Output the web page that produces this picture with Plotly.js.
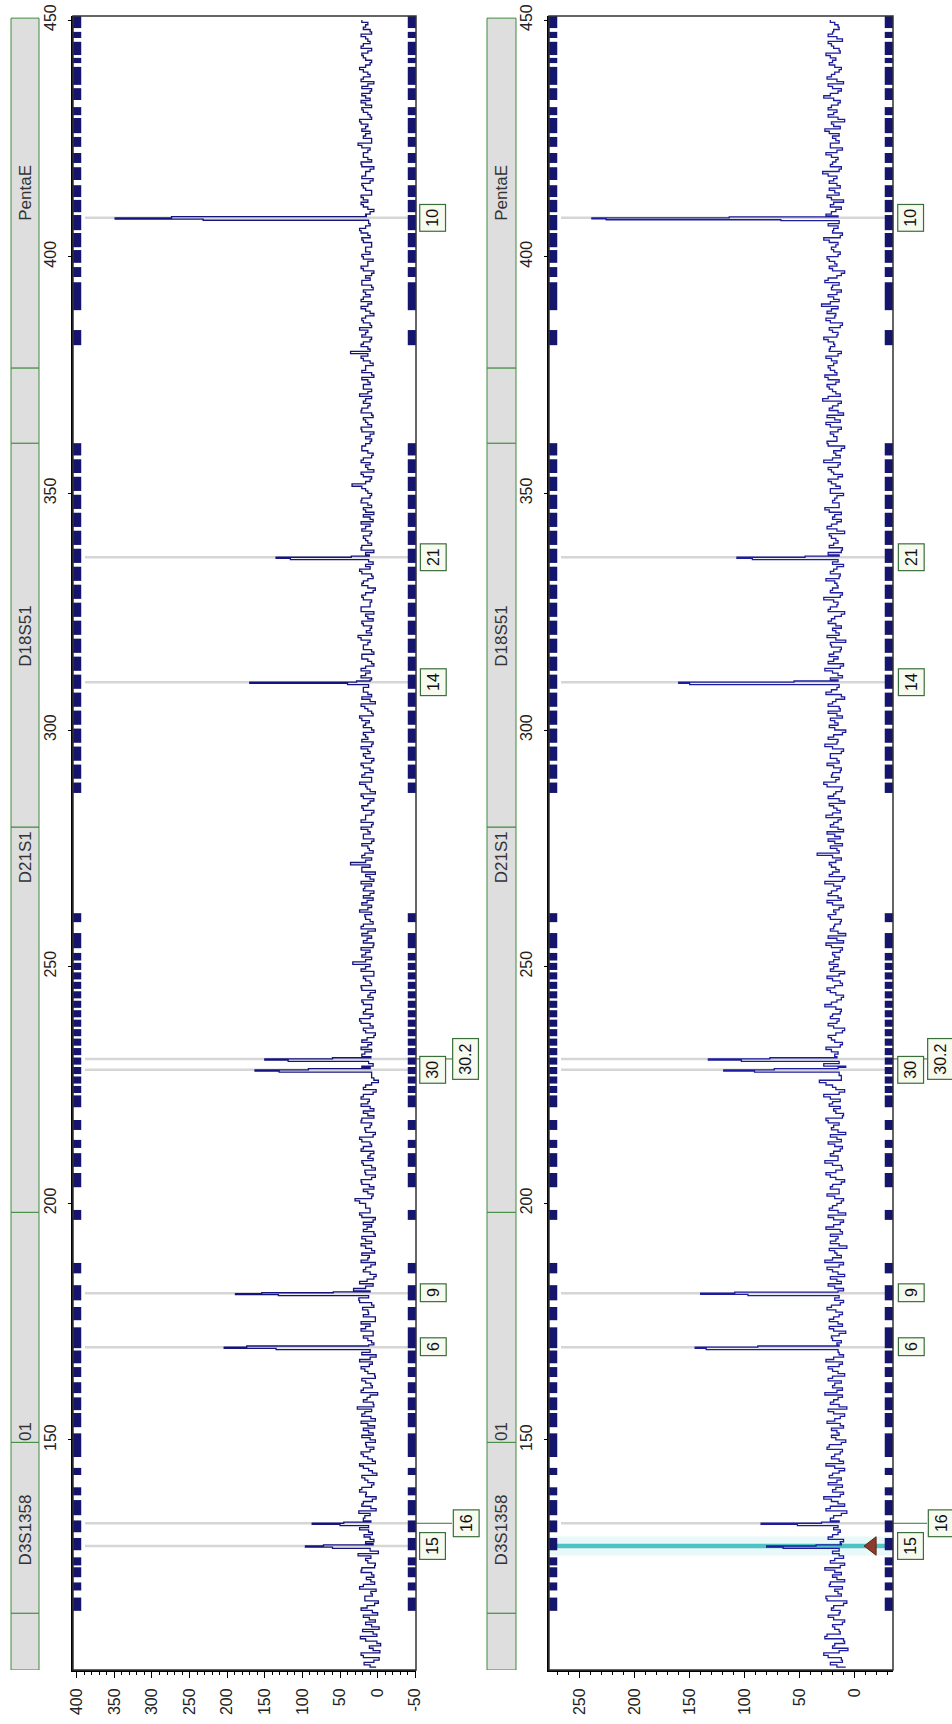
<!DOCTYPE html>
<html><head><meta charset="utf-8">
<script src="https://cdn.plot.ly/plotly-3.0.1.min.js"></script>
<style>html,body{margin:0;padding:0;background:#fff;}#chart{width:952px;height:1724px;}</style>
</head><body><div id="chart"></div>
<script>
// ---- data ----
const sizes = [
102,103,104,105,106,107,108,109,110,111,
112,113,114,115,116,117,118,119,120,121,
122,123,124,125,126,127,128,129,130,131,
132,133,134,135,136,137,138,139,140,141,
142,143,144,145,146,147,148,149,150,151,
152,153,154,155,156,157,158,159,160,161,
162,163,164,165,166,167,168,169,170,171,
172,173,174,175,176,177,178,179,180,181,
182,183,184,185,186,187,188,189,190,191,
192,193,194,195,196,197,198,199,200,201,
202,203,204,205,206,207,208,209,210,211,
212,213,214,215,216,217,218,219,220,221,
222,223,224,225,226,227,228,229,230,231,
232,233,234,235,236,237,238,239,240,241,
242,243,244,245,246,247,248,249,250,251,
252,253,254,255,256,257,258,259,260,261,
262,263,264,265,266,267,268,269,270,271,
272,273,274,275,276,277,278,279,280,281,
282,283,284,285,286,287,288,289,290,291,
292,293,294,295,296,297,298,299,300,301,
302,303,304,305,306,307,308,309,310,311,
312,313,314,315,316,317,318,319,320,321,
322,323,324,325,326,327,328,329,330,331,
332,333,334,335,336,337,338,339,340,341,
342,343,344,345,346,347,348,349,350,351,
352,353,354,355,356,357,358,359,360,361,
362,363,364,365,366,367,368,369,370,371,
372,373,374,375,376,377,378,379,380,381,
382,383,384,385,386,387,388,389,390,391,
392,393,394,395,396,397,398,399,400,401,
402,403,404,405,406,407,408,409,410,411,
412,413,414,415,416,417,418,419,420,421,
422,423,424,425,426,427,428,429,430,431,
432,433,434,435,436,437,438,439,440,441,
442,443,444,445,446,447,448,449,450];

const sizesHalf = [
102.5,103.5,104.5,105.5,106.5,107.5,108.5,109.5,110.5,111.5,
112.5,113.5,114.5,115.5,116.5,117.5,118.5,119.5,120.5,121.5,
122.5,123.5,124.5,125.5,126.5,127.5,128.5,129.5,130.5,131.5,
132.5,133.5,134.5,135.5,136.5,137.5,138.5,139.5,140.5,141.5,
142.5,143.5,144.5,145.5,146.5,147.5,148.5,149.5,150.5,151.5,
152.5,153.5,154.5,155.5,156.5,157.5,158.5,159.5,160.5,161.5,
162.5,163.5,164.5,165.5,166.5,167.5,168.5,169.5,170.5,171.5,
172.5,173.5,174.5,175.5,176.5,177.5,178.5,179.5,180.5,181.5,
182.5,183.5,184.5,185.5,186.5,187.5,188.5,189.5,190.5,191.5,
192.5,193.5,194.5,195.5,196.5,197.5,198.5,199.5,200.5,201.5,
202.5,203.5,204.5,205.5,206.5,207.5,208.5,209.5,210.5,211.5,
212.5,213.5,214.5,215.5,216.5,217.5,218.5,219.5,220.5,221.5,
222.5,223.5,224.5,225.5,226.5,227.5,228.5,229.5,230.5,231.5,
232.5,233.5,234.5,235.5,236.5,237.5,238.5,239.5,240.5,241.5,
242.5,243.5,244.5,245.5,246.5,247.5,248.5,249.5,250.5,251.5,
252.5,253.5,254.5,255.5,256.5,257.5,258.5,259.5,260.5,261.5,
262.5,263.5,264.5,265.5,266.5,267.5,268.5,269.5,270.5,271.5,
272.5,273.5,274.5,275.5,276.5,277.5,278.5,279.5,280.5,281.5,
282.5,283.5,284.5,285.5,286.5,287.5,288.5,289.5,290.5,291.5,
292.5,293.5,294.5,295.5,296.5,297.5,298.5,299.5,300.5,301.5,
302.5,303.5,304.5,305.5,306.5,307.5,308.5,309.5,310.5,311.5,
312.5,313.5,314.5,315.5,316.5,317.5,318.5,319.5,320.5,321.5,
322.5,323.5,324.5,325.5,326.5,327.5,328.5,329.5,330.5,331.5,
332.5,333.5,334.5,335.5,336.5,337.5,338.5,339.5,340.5,341.5,
342.5,343.5,344.5,345.5,346.5,347.5,348.5,349.5,350.5,351.5,
352.5,353.5,354.5,355.5,356.5,357.5,358.5,359.5,360.5,361.5,
362.5,363.5,364.5,365.5,366.5,367.5,368.5,369.5,370.5,371.5,
372.5,373.5,374.5,375.5,376.5,377.5,378.5,379.5,380.5,381.5,
382.5,383.5,384.5,385.5,386.5,387.5,388.5,389.5,390.5,391.5,
392.5,393.5,394.5,395.5,396.5,397.5,398.5,399.5,400.5,401.5,
402.5,403.5,404.5,405.5,406.5,407.5,408.5,409.5,410.5,411.5,
412.5,413.5,414.5,415.5,416.5,417.5,418.5,419.5,420.5,421.5,
422.5,423.5,424.5,425.5,426.5,427.5,428.5,429.5,430.5,431.5,
432.5,433.5,434.5,435.5,436.5,437.5,438.5,439.5,440.5,441.5,
442.5,443.5,444.5,445.5,446.5,447.5,448.5,449.5];

const noise1 = [
2,18,-2,22,6,-4,16,1,20,8,
3,19,7,14,-1,17,9,24,4,15,
8,21,3,16,26,9,30,5,18,12,
22,6,17,25,9,19,2,15,21,5,
17,1,12,24,7,19,10,15,3,21,
12,4,22,9,17,27,6,14,0,19,
9,21,4,17,11,24,2,15,29,8,
19,6,16,22,3,12,20,8,25,15,
32,6,14,2,19,9,22,11,4,16,
8,21,5,14,19,3,24,10,16,30,
6,19,11,22,3,17,8,21,13,5,
19,10,24,3,17,8,21,13,5,22,
11,19,2,16,-1,8,-5,21,26,6,
17,22,8,14,3,19,10,24,6,16,
8,21,13,3,22,10,19,5,16,33,
8,16,22,5,14,21,3,19,10,17,
24,8,14,19,5,17,22,10,3,21,
36,8,17,11,21,5,19,13,8,22,
16,5,21,10,19,3,14,24,8,17,
10,22,5,19,13,8,21,16,5,19,
11,24,8,17,3,21,13,19,28,8,
16,22,5,13,21,8,19,10,26,15,
8,21,13,5,22,10,19,16,3,21,
13,8,24,16,30,10,5,21,13,19,
8,16,22,10,5,19,13,21,8,16,
34,10,19,5,16,22,8,13,21,10,
16,5,22,13,19,8,21,10,16,24,
8,19,13,5,21,16,10,22,36,13,
19,8,16,24,10,21,5,16,13,22,
10,19,8,21,16,5,22,13,19,10,
16,8,21,13,24,10,28,16,5,19,
13,22,8,19,10,21,16,5,22,13,
19,10,26,8,16,21,13,24,10,19,
8,22,16,10,21,5,19,13,24,10,
16,21,8,19,13,22,10,16,21];

const noise1Half = [
10,5,19,-3,11,1,23,6,-2,16,
11,0,22,4,17,7,2,19,9,5,
22,4,13,9,-1,21,16,10,7,24,
5,19,10,2,21,7,16,24,8,13,
21,7,19,3,13,22,5,16,10,6,
19,13,3,21,8,5,19,10,22,7,
16,3,13,22,7,10,21,19,5,13,
6,22,10,3,19,13,5,24,10,3,
16,24,5,10,16,3,13,21,8,22,
16,3,19,8,6,21,10,16,24,8,
13,5,21,8,16,3,19,6,10,22,
8,21,6,16,10,22,5,19,10,13,
22,6,19,8,5,16,-2,6,13,21,
8,13,21,5,16,6,22,10,19,8,
19,6,10,21,8,16,5,22,10,16,
21,10,6,19,8,13,22,6,16,8,
13,21,6,10,19,8,5,16,21,10,
16,21,6,13,8,19,10,22,6,16,
8,19,13,5,22,10,16,8,21,6,
19,8,16,10,22,6,13,19,8,16,
21,6,13,22,10,8,19,6,16,22,
10,16,8,21,5,19,13,22,8,10,
19,6,16,22,10,8,21,6,13,19,
6,21,10,6,19,16,22,8,16,10,
21,10,6,19,16,8,22,10,13,21,
16,8,22,13,10,19,6,21,16,8,
10,21,8,16,6,22,13,19,8,13,
19,10,21,8,16,6,19,13,10,22,
10,21,13,8,19,16,10,22,8,19,
16,6,21,10,8,19,13,6,21,16,
8,19,10,22,16,6,21,10,13,22,
19,8,16,21,6,16,10,21,8,19,
13,21,8,19,10,16,22,8,13,21,
16,10,21,8,13,22,10,19,16,8,
19,13,22,10,16,8,19,13];

const noise2 = [
8,22,12,28,6,18,10,25,14,20,
9,24,13,19,7,26,15,11,22,16,
12,27,9,18,14,8,23,10,20,13,
25,11,19,7,22,15,28,10,17,24,
12,20,9,26,14,18,11,23,8,21,
16,10,25,13,19,7,22,15,27,11,
18,24,9,20,14,26,10,17,28,12,
21,8,23,15,19,11,25,13,18,22,
10,24,16,9,20,14,27,12,18,7,
22,15,11,26,13,19,8,23,16,10,
25,14,20,9,22,17,12,27,15,19,
11,24,16,8,21,14,26,10,19,23,
13,28,9,20,32,12,24,8,22,30,
15,26,11,21,17,9,24,14,20,12,
27,16,10,22,18,13,25,9,19,23,
14,20,11,26,16,8,22,18,12,24,
19,10,25,15,21,13,27,9,20,17,
23,12,34,16,11,24,18,10,22,15,
26,13,19,9,24,17,11,28,14,20,
12,25,16,22,10,27,15,19,8,23,
18,11,24,14,20,9,26,16,12,22,
15,27,10,19,23,13,21,8,25,17,
12,24,18,9,22,15,28,11,20,16,
26,13,19,10,24,17,12,23,15,21,
9,25,16,20,12,27,14,18,10,22,
17,24,11,21,15,28,13,19,9,25,
16,22,12,26,18,10,23,15,29,13,
20,25,14,27,18,24,16,26,12,22,
19,28,15,23,11,26,17,21,30,14,
24,12,20,27,16,9,23,18,25,13,
21,15,28,11,19,24,14,26,17,22,
10,25,18,13,23,16,29,12,20,15,
26,11,22,17,14,27,19,9,24,16,
21,13,28,15,20,10,25,18,12,23,
17,26,14,21,11,24,19,15,22];

const noise2Half = [
16,11,24,14,20,9,27,13,18,11,
19,14,21,10,25,12,18,23,9,20,
18,13,22,10,20,16,13,24,15,19,
14,22,12,26,9,21,13,20,11,16,
23,14,18,10,21,13,25,12,17,14,
21,13,18,9,24,14,19,11,16,20,
12,20,15,24,11,19,14,22,16,20,
14,19,11,23,14,17,21,10,24,13,
18,12,22,15,25,10,20,16,23,14,
17,22,13,19,10,24,15,20,12,18,
14,22,12,17,26,11,20,15,22,13,
18,12,22,15,19,24,11,17,13,20,
22,14,17,26,12,20,15,28,13,18,
21,13,18,24,11,19,16,22,13,17,
21,12,17,25,11,20,14,22,15,19,
18,13,21,10,24,15,19,13,22,17,
14,20,12,24,16,19,11,23,14,21,
17,20,14,22,18,13,25,15,19,12,
20,16,23,14,19,12,25,17,21,13,
19,14,22,12,20,16,24,11,18,15,
22,16,13,24,17,12,21,15,23,11,
20,13,24,15,19,12,22,17,14,20,
17,21,12,24,16,19,13,22,15,18,
14,22,16,20,13,24,11,19,17,23,
16,21,12,18,23,14,20,16,22,13,
21,15,19,24,13,20,17,12,24,16,
19,15,22,13,25,15,20,12,24,17,
23,17,24,16,22,19,21,15,23,18,
24,16,20,13,22,18,25,15,22,19,
16,21,14,24,12,20,16,23,15,19,
17,23,13,20,15,22,18,21,12,19,
21,14,23,16,19,24,14,22,17,21,
16,22,14,20,23,13,21,15,19,24,
15,19,22,12,24,16,21,14,18,20,
22,13,19,24,16,20,14,18];

const peakSizes1 = [127.1,127.35,127.6,127.85,128.1, 131.9,132.15,132.4,132.65,132.9,
  169.1,169.35,169.6,169.85,170.1, 180.5,180.7,180.9,181.1,181.3,181.5,
  227.7,227.95,228.2,228.45,228.7, 230.0,230.25,230.5,230.75,231.0,
  309.6,309.85,310.1,310.35,310.6, 336.0,336.25,336.5,336.75,337.0,
  407.7,407.95,408.2,408.45,408.7];
const peakRFU1 = [10,60,96,72,6, 12,50,87,45,9,
  10,135,204,174,12, 12,132,189,154,59,10,
  8,131,163,92,10, 12,119,150,60,9,
  12,40,170,28,10, 12,116,135,35,11,
  12,232,349,274,15];

const peakSizes2 = [127.1,127.35,127.6,127.85,128.1, 131.9,132.15,132.4,132.65,132.9,
  169.1,169.35,169.6,169.85,170.1, 180.5,180.75,181.0,181.25,181.5,
  227.7,227.95,228.2,228.45,228.7, 230.0,230.25,230.5,230.75,231.0,
  309.6,309.85,310.1,310.35,310.6, 336.0,336.25,336.5,336.75,337.0,
  407.6,407.8,408.0,408.2,408.4,408.6];
const peakRFU2 = [14,65,80,35,12, 15,52,85,30,14,
  15,135,145,88,14, 14,97,140,109,15,
  14,91,119,73,15, 14,103,133,77,16,
  14,150,160,55,15, 15,93,107,45,14,
  14,67,226,239,114,15];

const alleleNames = ['15','16','6','9','30','30.2','14','21','10'];
const alleleSizes = [127.6,132.4,169.6,181.0,228.2,230.5,310.1,336.5,408.2];
const selectedAllele = '15';
const selectedMarkerRFU = -16;

const lociNames  = ['', 'D3S1358', '01', 'D21S1', 'D18S51', '', 'PentaE'];
const lociStart  = [101.4, 113.4, 149.5, 198.1, 279.5, 360.6, 376.5];
const lociEnd    = [113.4, 149.5, 198.1, 279.5, 360.6, 376.5, 450.4];
const lociLabelAt = [null, 131.0, 151.8, 273.0, 319.8, null, 413.4];

const binStart = [448.3,446.2,442.6,440.9,436.3,433.1,429.9,426.1,423.2,419.8,416.2,412.6,409.4,405.6,402.0,398.7,395.7,388.7,381.3,
  358.0,354.3,350.5,346.7,342.9,339.1,335.3,331.5,327.7,323.9,320.1,316.3,312.5,308.7,304.9,301.1,297.3,293.5,289.7,286.7,
  259.4,253.9,251.3,249.3,247.3,245.3,243.3,241.3,239.3,237.3,235.3,233.3,231.3,229.3,227.3,225.3,223.3,220.3,215.5,211.7,207.7,203.4,
  196.5,
  185.2,179.5,175.3,169.4,166.2,163.3,159.9,156.3,152.7,146.4,142.6,138.3,134.1,130.5,126.7,123.5,121.0,118.2,113.9];
const binEnd = [451.1,447.5,445.4,442.0,440.1,435.6,431.6,429.3,425.3,421.9,418.9,415.1,412.0,408.8,405.0,401.4,397.8,394.6,384.5,
  360.6,357.2,353.5,349.7,345.9,342.1,338.3,334.5,330.7,326.9,323.1,319.3,315.5,311.7,307.9,304.1,300.3,296.5,292.7,288.9,
  261.3,257.1,252.9,250.8,248.8,246.8,244.8,242.8,240.8,238.8,236.8,234.8,232.8,230.8,228.8,226.8,224.8,222.8,217.6,213.4,210.6,206.4,
  198.6,
  187.4,182.7,178.1,173.8,168.9,165.4,162.2,159.0,155.7,151.4,144.1,140.0,137.3,133.0,129.3,125.2,123.1,119.9,116.7];

const sizeTicks = [150,200,250,300,350,400,450];
const rfuTicks1 = [400,350,300,250,200,150,100,50,0,-50];
const rfuLabels1 = ['400','350','300','250','200','150','100','50','0','-50'];
const rfuTicks2 = [250,200,150,100,50,0];
const rfuLabels2 = ['250','200','150','100','50','0'];

// ---- build ----
function buildTrace(noiseA, noiseB, pSizes, pRFU) {
  const pts = [];
  const keep = s => !pSizes.some(p => Math.abs(p - s) < 0.3);
  sizes.forEach((s, i) => { if (keep(s) && noiseA[i] !== undefined) pts.push([s, noiseA[i]]); });
  sizesHalf.forEach((s, i) => { if (keep(s) && noiseB[i] !== undefined) pts.push([s, noiseB[i]]); });
  pSizes.forEach((s, i) => pts.push([s, pRFU[i]]));
  pts.sort((a, b) => a[0] - b[0]);
  return { x: pts.map(p => p[1]), y: pts.map(p => p[0]) };
}
const t1 = buildTrace(noise1, noise1Half, peakSizes1, peakRFU1);
const t2 = buildTrace(noise2, noise2Half, peakSizes2, peakRFU2);
const selSize = alleleSizes[alleleNames.indexOf(selectedAllele)];

const FONT = 'Arial, "Liberation Sans", sans-serif';
const W = 952;
const panels = [
  { xa: 'x', ya: 'y', bar: [11/W, 39/W], barText: 25.5/W, col: [433/W, 466/W], conn: [416/W, 452/W] },
  { xa: 'x2', ya: 'y2', bar: [487/W, 516/W], barText: 501.5/W, col: [911/W, 941/W], conn: [893/W, 927/W] }
];

const shapes = [];
const annotations = [];

const order = alleleSizes.map((s, i) => i).sort((a, b) => alleleSizes[a] - alleleSizes[b]);
const col = new Array(alleleSizes.length).fill(0);
for (let k = 1; k < order.length; k++) {
  const i = order[k], j = order[k - 1];
  if (alleleSizes[i] - alleleSizes[j] < 5 && col[j] === 0) col[i] = 1;
}

panels.forEach((p, pi) => {
  lociStart.forEach((s, i) => {
    shapes.push({ type: 'rect', xref: 'paper', yref: p.ya, x0: p.bar[0], x1: p.bar[1], y0: s, y1: lociEnd[i],
      fillcolor: '#dedede', line: { color: '#3f8a3f', width: 1 }, layer: 'below' });
    if (lociNames[i]) annotations.push({ xref: 'paper', yref: p.ya, x: p.barText, y: lociLabelAt[i], text: lociNames[i],
      showarrow: false, textangle: -90, font: { family: FONT, size: 17, color: '#333' }, xanchor: 'center', yanchor: 'middle' });
  });
  if (pi === 1) {
    shapes.push({ type: 'rect', xref: p.xa + ' domain', yref: p.ya, x0: 0, x1: 1, y0: selSize - 2.0, y1: selSize + 2.0,
      fillcolor: '#e9f8f8', line: { width: 0 }, layer: 'below' });
  }
  alleleSizes.forEach((s, i) => {
    const isSel = (pi === 1 && alleleNames[i] === selectedAllele);
    shapes.push({ type: 'line', xref: p.xa + ' domain', yref: p.ya, x0: isSel ? 0 : 0.035, x1: 1, y0: s, y1: s,
      line: { color: isSel ? '#4fc2c2' : '#d6d6d6', width: isSel ? 4.5 : 2.5 }, layer: 'below' });
    if (col[i] === 1) {
      shapes.push({ type: 'line', xref: 'paper', yref: p.ya, x0: p.conn[0], x1: p.conn[1], y0: s, y1: s,
        line: { color: '#3b6e3b', width: 1 } });
    }
    annotations.push({ xref: 'paper', yref: p.ya, x: p.col[col[i]], y: s, text: alleleNames[i], showarrow: false,
      textangle: -90, font: { family: FONT, size: 16, color: '#111' }, bordercolor: '#3b6e3b', borderwidth: 1.2,
      borderpad: 4, bgcolor: '#f6faef', xanchor: 'center', yanchor: 'middle' });
  });
  binStart.forEach((s, i) => {
    [[0, 0.024], [0.976, 1]].forEach(xx => {
      shapes.push({ type: 'rect', xref: p.xa + ' domain', yref: p.ya, x0: xx[0], x1: xx[1], y0: s, y1: binEnd[i],
        fillcolor: '#15156e', line: { width: 0 }, layer: 'above' });
    });
  });
  shapes.push({ type: 'rect', xref: p.xa + ' domain', yref: p.ya + ' domain', x0: 0, x1: 1, y0: 0, y1: 1,
    line: { color: '#333', width: 1.5 }, fillcolor: 'rgba(0,0,0,0)', layer: 'above' });
});

const traces = [
  { x: t1.x, y: t1.y, xaxis: 'x', yaxis: 'y', mode: 'lines', line: { color: '#14147c', width: 1.3, shape: 'hv' }, hoverinfo: 'skip' },
  { x: t2.x, y: t2.y, xaxis: 'x2', yaxis: 'y2', mode: 'lines', line: { color: '#1c1c9c', width: 1.3, shape: 'hv' }, hoverinfo: 'skip' },
  { x: [selectedMarkerRFU], y: [selSize], xaxis: 'x2', yaxis: 'y2', mode: 'markers',
    marker: { symbol: 'triangle-left', size: 16, color: '#8c3b2b', line: { color: '#5a2418', width: 1 } }, hoverinfo: 'skip' }
];

const tickFont = { family: FONT, size: 16, color: '#222' };
const yDomain = [1 - 1670/1724, 1 - 16/1724];
const yRange = [101.4, 450.85];
function rfuAxis(domain, range, vals, labels, anchor) {
  return { domain, range, anchor, tickmode: 'array', tickvals: vals, ticktext: labels, tickangle: -90,
    ticks: 'outside', ticklen: 6, tickwidth: 1, tickcolor: '#000', showline: true, linewidth: 2, linecolor: '#000',
    showgrid: false, zeroline: false, tickfont: tickFont, ticklabelstandoff: 4, automargin: false, fixedrange: true,
    minor: { tickmode: 'linear', tick0: 0, dtick: 10, ticks: 'outside', ticklen: 3, tickcolor: '#000', showgrid: false } };
}
function sizeAxis(anchor) {
  return { domain: yDomain, range: yRange, anchor, tickmode: 'array', tickvals: sizeTicks, ticktext: sizeTicks.map(String),
    tickangle: -90, ticks: 'outside', ticklen: 3, tickcolor: '#000', showline: true, linewidth: 2, linecolor: '#000',
    showgrid: false, zeroline: false, tickfont: tickFont, ticklabelstandoff: 6, automargin: false, fixedrange: true };
}

const layout = {
  width: 952, height: 1724, margin: { l: 0, r: 0, t: 0, b: 0 }, showlegend: false,
  paper_bgcolor: '#fff', plot_bgcolor: '#fff', font: { family: FONT },
  xaxis: rfuAxis([73/W, 416/W], [405, -51], rfuTicks1, rfuLabels1, 'y'),
  xaxis2: rfuAxis([549/W, 893/W], [278, -35], rfuTicks2, rfuLabels2, 'y2'),
  yaxis: sizeAxis('x'),
  yaxis2: sizeAxis('x2'),
  shapes, annotations
};

Plotly.newPlot('chart', traces, layout, { staticPlot: true, displayModeBar: false });
</script>
</body></html>
